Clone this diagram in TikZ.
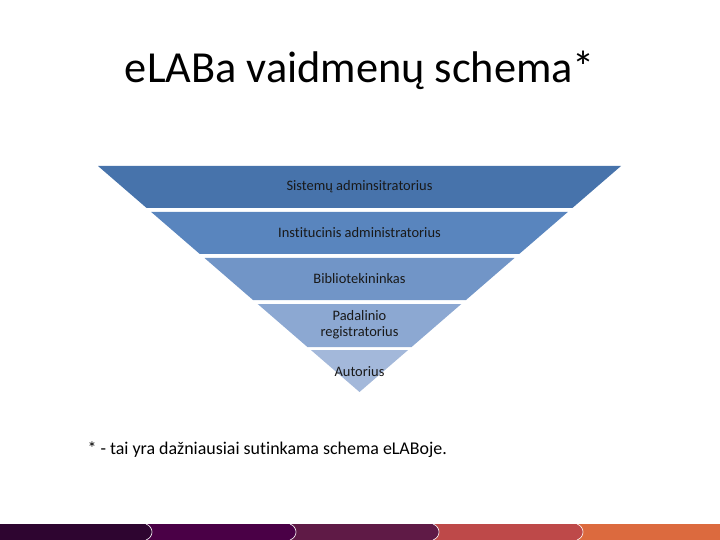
\documentclass[tikz,border=0pt]{standalone}
\usepackage{fontspec}
\setmainfont{Carlito}[Ligatures=NoCommon]
\usepackage{tikz}
\usetikzlibrary{positioning,calc}
\definecolor{lvlA}{RGB}{71,115,171}
\definecolor{lvlB}{RGB}{89,133,190}
\definecolor{lvlC}{RGB}{113,149,199}
\definecolor{lvlD}{RGB}{140,168,210}
\definecolor{lvlE}{RGB}{163,184,218}
\definecolor{barA}{RGB}{46,5,48}
\definecolor{barB}{RGB}{74,0,70}
\definecolor{barC}{RGB}{95,26,70}
\definecolor{barD}{RGB}{190,73,73}
\definecolor{barE}{RGB}{220,106,62}

\begin{document}
\begin{tikzpicture}[x=1bp, y=-1bp,
  lvl/.style={font=\fontsize{14.5}{16}\selectfont, text=black!90, align=center},
  seam/.style={white, line width=0.6bp},
]
  \useasboundingbox (0,0) rectangle (720,540);
  % --- title ---
  \node[font=\fontsize{44.5}{50}\selectfont] (title) at (360,70) {eLABa vaidmenų schema*};
  % --- inverted pyramid ---
  \fill[lvlA] (98,166) -- (621,166) -- (572.4,208) -- (146.6,208) -- cycle;
  \fill[lvlB] (151.2,212) -- (567.8,212) -- (519.2,254) -- (199.8,254) -- cycle;
  \fill[lvlC] (204.5,258) -- (514.5,258) -- (466,300) -- (253,300) -- cycle;
  \fill[lvlD] (257.7,304) -- (461.3,304) -- (411.6,347) -- (307.4,347) -- cycle;
  \fill[lvlE] (310.9,350) -- (408.1,350) -- (359.5,392) -- cycle;
  \node[lvl] (sis) at (359.5,187) {Sistemų adminsitratorius};
  \node[lvl] (ins) at (359.5,233) {Institucinis administratorius};
  \node[lvl] (bib) at (359.5,279) {Bibliotekininkas};
  \node[lvl] (pad) at (359.5,325) {Padalinio\\registratorius};
  \node[lvl] (aut) at (359.5,372) {Autorius};
  % --- footnote ---
  \node[font=\fontsize{18}{21}\selectfont, anchor=west] (note) at (84,450)
    {* - tai yra dažniausiai sutinkama schema eLABoje.};
  % --- bottom bar ---
  \fill[barE] (577,524) rectangle (720,540);
  \fill[barD] (433,524) -- (577,524) .. controls (585,527) and (585,537) .. (577,540) -- (433,540) -- cycle;
  \draw[seam] (577,524) .. controls (585,527) and (585,537) .. (577,540);
  \fill[barC] (290,524) -- (433,524) .. controls (441,527) and (441,537) .. (433,540) -- (290,540) -- cycle;
  \draw[seam] (433,524) .. controls (441,527) and (441,537) .. (433,540);
  \fill[barB] (146,524) -- (290,524) .. controls (298,527) and (298,537) .. (290,540) -- (146,540) -- cycle;
  \draw[seam] (290,524) .. controls (298,527) and (298,537) .. (290,540);
  \fill[barA] (0,524) -- (146,524) .. controls (154,527) and (154,537) .. (146,540) -- (0,540) -- cycle;
  \draw[seam] (146,524) .. controls (154,527) and (154,537) .. (146,540);
\end{tikzpicture}
\end{document}
